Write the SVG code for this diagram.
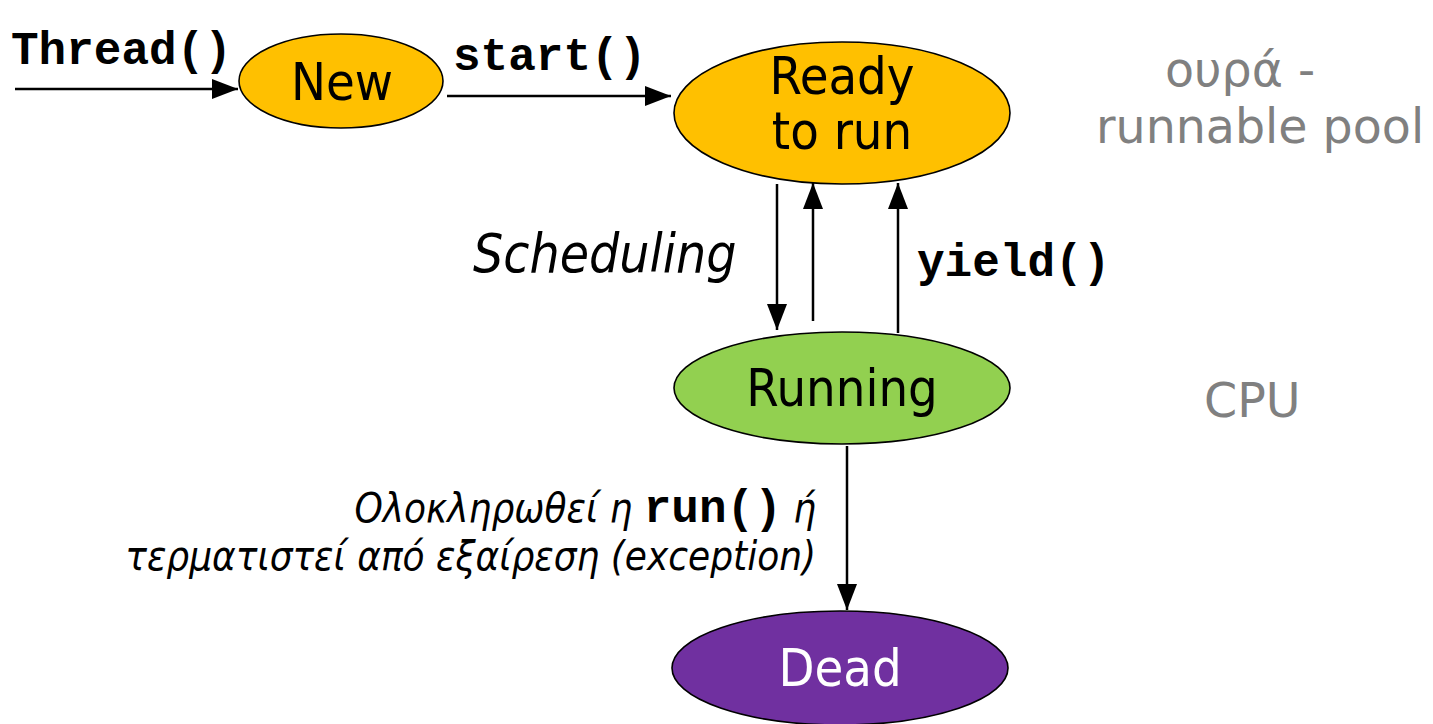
<svg xmlns="http://www.w3.org/2000/svg" width="1433" height="724" viewBox="0 0 1433 724">
<style>
.node{stroke:#000;stroke-width:1.6}
.lbl{font-family:"DejaVu Sans Condensed","DejaVu Sans",sans-serif;font-stretch:condensed;font-size:52px;text-anchor:middle}
.code{font-family:"Liberation Mono","Courier New",monospace;font-weight:bold;font-size:46px;fill:#000}
.it{font-family:"DejaVu Sans Condensed","DejaVu Sans",sans-serif;font-stretch:condensed;font-style:italic;fill:#000}
.gray{font-family:"DejaVu Sans",Verdana,sans-serif;font-size:47.5px;fill:#808080}
.conn{stroke:#000;stroke-width:2.5;fill:none;marker-end:url(#ah)}
</style>
<defs>
<marker id="ah" markerUnits="userSpaceOnUse" markerWidth="26" markerHeight="20" refX="26" refY="10" orient="auto">
<path d="M0,0 L26,10 L0,20 z" fill="#000"/>
</marker>
</defs>
<rect width="1433" height="724" fill="#fff"/>
<g id="connectors">
<line class="conn" x1="15" y1="89" x2="238" y2="89"/>
<line class="conn" x1="447" y1="96" x2="671" y2="96"/>
<line class="conn" x1="777" y1="184" x2="777" y2="330"/>
<line class="conn" x1="813" y1="321" x2="813" y2="183"/>
<line class="conn" x1="898" y1="333" x2="898" y2="183"/>
<line class="conn" x1="847" y1="446" x2="847" y2="610"/>
</g>
<g id="node-new">
<ellipse class="node" cx="341" cy="81" rx="102" ry="47" fill="#FFC000"/>
<text class="lbl" x="342" y="100">New</text>
</g>
<g id="node-ready">
<ellipse class="node" cx="842" cy="113" rx="168" ry="71" fill="#FFC000"/>
<text class="lbl" x="842" y="94">Ready</text>
<text class="lbl" x="842" y="149">to run</text>
</g>
<g id="node-running">
<ellipse class="node" cx="842" cy="388" rx="168" ry="56" fill="#92D050"/>
<text class="lbl" x="842" y="406">Running</text>
</g>
<g id="node-dead">
<ellipse class="node" cx="840" cy="668" rx="168" ry="57" fill="#7030A0"/>
<text class="lbl" x="840" y="686" fill="#fff">Dead</text>
</g>
<g id="labels">
<text class="code" x="11" y="64">Thread()</text>
<text class="code" x="453" y="70">start()</text>
<text class="code" x="917" y="276">yield()</text>
<text class="it" x="473" y="272" font-size="53">Scheduling</text>
<text class="it" x="816" y="522" font-size="40" text-anchor="end">Ολοκληρωθεί η <tspan class="code" font-style="normal">run()</tspan> ή</text>
<text class="it" x="816" y="570" font-size="40" text-anchor="end">τερματιστεί από εξαίρεση (exception)</text>
<text class="gray" x="1165" y="86">ουρά -</text>
<text class="gray" x="1096" y="143">runnable pool</text>
<text class="gray" x="1204" y="417">CPU</text>
</g>
</svg>
